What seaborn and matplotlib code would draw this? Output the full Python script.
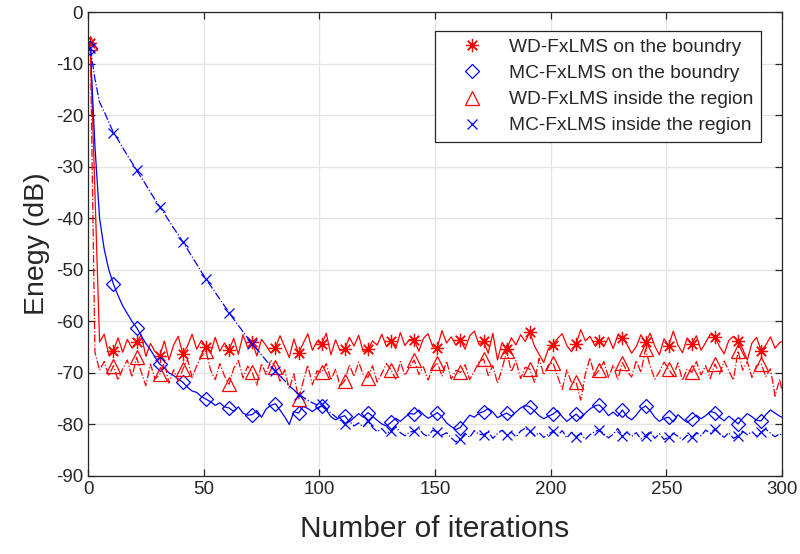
import matplotlib
matplotlib.use('Agg')
import matplotlib.pyplot as plt
import seaborn as sns
import numpy as np

# ---------- data ----------
# line samples at iterations 1, 3, 5, ..., 299 and 300
iters = list(range(1, 300, 2)) + [300]

wd_boundary = [
    -6, -35, -64, -62.5, -66.5, -65.7, -63.2, -66, -63.5, -65.2,
    -64.1, -62.6, -66.8, -64.3, -65.9, -66.7, -63.8, -67.5, -64.6, -62.9,
    -66.3, -64.8, -62.5, -65.4, -63.7, -64.9, -66.2, -63.1, -65.8, -64.2,
    -65.5, -63.3, -66.4, -62.6, -65.1, -64.1, -66.7, -63.5, -64.7, -66.1,
    -65.2, -62.8, -64.9, -67, -63.4, -66.2, -64.3, -62.4, -65.6, -63.9,
    -64.4, -62.3, -66.5, -63.6, -65.7, -65.4, -63.1, -64.8, -62.7, -65.9,
    -65.4, -63.8, -64.6, -62.5, -64.9, -63.8, -65.3, -62.2, -64.7, -63.5,
    -63.6, -65.8, -63.3, -62.4, -64.9, -65.1, -61.8, -64.2, -63, -64.6,
    -63.6, -65.4, -62.8, -61.9, -64.5, -63.9, -66.2, -62.3, -67.5, -64.1,
    -65.4, -63.2, -64.6, -62.6, -63.9, -62.1, -64.8, -66.4, -68, -65.3,
    -64.5, -63.3, -62.4, -64.7, -65.9, -64.4, -61.6, -63.8, -62.9, -64.6,
    -63.8, -64.9, -63.1, -65.3, -62.7, -63.2, -64.5, -66.2, -64.9, -62.6,
    -64.1, -62.3, -64.8, -66.5, -63.4, -64.7, -61.9, -64.6, -66.1, -63.2,
    -64.4, -62.8, -65.6, -64.1, -62.5, -63, -64.9, -66.3, -63.7, -62.9,
    -63.8, -65.4, -67.5, -64.2, -63.1, -65.7, -64.6, -63, -65.2, -64.1,
    -63.9]

mc_boundary = [
    -7, -26, -40, -46, -50, -52.8, -55, -57, -58.5, -60,
    -61.2, -62.8, -64.3, -65.5, -67, -68.3, -69, -70, -70.5, -71.2,
    -71.8, -72.8, -73.5, -73.8, -74.6, -75.1, -75.6, -76.3, -75.8, -76.6,
    -76.8, -77.5, -76.6, -77.8, -78.2, -78.1, -77.3, -78.6, -77, -76.3,
    -76, -77.2, -78.5, -80, -77.5, -77.8, -76.5, -76.9, -77.5, -76.8,
    -76.4, -77.2, -78.5, -79.1, -78.6, -78.3, -79.5, -78.7, -77.9, -78.6,
    -77.7, -78.4, -79.2, -79.9, -80.3, -79.6, -78.8, -79.4, -78.6, -77.9,
    -78, -77.2, -78.1, -78.8, -78.3, -77.7, -78.5, -79.7, -80.4, -81,
    -80.6, -79.3, -78.2, -78.6, -77.8, -77.5, -76.9, -77.6, -78.7, -78.2,
    -77.8, -78.4, -77.6, -76.8, -76.3, -76.6, -77.4, -78.3, -78.9, -78.4,
    -78, -77.3, -78.5, -79.4, -78.7, -78, -78.9, -77.8, -77, -76.4,
    -76.2, -77.1, -78.3, -77.6, -78.4, -77.2, -78.5, -79.1, -78.2, -77,
    -76.4, -77.3, -78.6, -79.4, -78.8, -78.6, -79.5, -78.1, -78.9, -79.6,
    -78.9, -78.2, -78.9, -78.3, -77.5, -77.7, -78.6, -79.3, -78.4, -79.1,
    -79.9, -78.8, -77.9, -78.5, -79.2, -79.3, -78.1, -77.2, -77.8, -78.4,
    -78.6]

wd_inside = [
    -6, -66, -69.5, -67.8, -70.6, -68.6, -71.4, -69.2, -67.5, -70.8,
    -67, -69.8, -72.5, -68.3, -71.2, -70.3, -67.9, -72, -69.4, -71.6,
    -69.3, -67.4, -70.9, -68.6, -66.8, -65.7, -69.5, -71.3, -68.2, -70.6,
    -72.2, -69.1, -67.6, -71, -68.7, -69.9, -72.4, -68.2, -70.3, -67.5,
    -68.9, -71.6, -69.4, -73.1, -70.2, -75.1, -71.7, -68.5, -72.3, -69.6,
    -69.9, -68.2, -71.4, -69.3, -72.6, -71.5, -68.4, -70.7, -67.9, -70.4,
    -70.9, -68.6, -71.8, -70.1, -68.2, -69.4, -71.2, -67.8, -70.5, -68.9,
    -67.5, -70.3, -68.8, -71.4, -69.1, -68, -70.6, -67.7, -71.2, -69.5,
    -69.9, -68.4, -71.3, -69.7, -67.9, -67.3, -70.5, -68.6, -72, -69.2,
    -65.7, -69.8, -67.6, -71.1, -68.9, -69.3, -71.8, -67.2, -70.4, -68.5,
    -68, -70.7, -73.2, -69.4, -71.9, -71.8, -75.3, -70.2, -67.1, -70.6,
    -69.4, -67.8, -70.9, -68.5, -71.3, -68, -69.7, -70.8, -67.6, -69.9,
    -65.4, -68.7, -71.2, -69.8, -67.9, -69.3, -70.6, -68.1, -71.5, -69.2,
    -69.9, -67.8, -70.4, -68.6, -71.1, -68.3, -70.2, -67.7, -69.6, -71.4,
    -65.7, -69.5, -67.8, -70.9, -68.6, -68.3, -70.7, -69.2, -74.5, -71.2,
    -73.5]

mc_inside = [
    -7, -13, -17.5, -19.3, -21.4, -23.4, -24.8, -26.3, -27.8, -29.2,
    -30.7, -32.1, -33.5, -35, -36.4, -37.8, -39.1, -40.5, -41.9, -43.2,
    -44.6, -46, -47.5, -48.9, -50.4, -51.8, -53.1, -54.4, -55.7, -57,
    -58.3, -59.6, -60.8, -62, -63.2, -64.4, -65.4, -66.5, -67.6, -68.6,
    -69.6, -70.6, -71.5, -72.5, -73.3, -74.2, -74.7, -75.3, -75.8, -76.2,
    -76, -77, -77.8, -78.5, -79.2, -79.9, -79.4, -80.3, -79.7, -80.5,
    -79.3, -80.6, -81.4, -80.8, -81.8, -81.2, -80.4, -81.6, -82.2, -81.5,
    -81.3, -80.7, -81.9, -82.3, -81.1, -81.5, -82.1, -81.6, -82.6, -83.4,
    -82.8, -81.7, -82.5, -81.2, -81.9, -82, -81.4, -82.7, -81.8, -81.1,
    -82, -81.5, -82.4, -81.3, -80.7, -81.3, -82.2, -81.6, -82.5, -81.9,
    -81.3, -82.1, -81.2, -82.6, -81.5, -82.4, -81.7, -82.9, -82, -81.4,
    -81.1, -81.8, -82.6, -81.9, -80.8, -82.2, -81.5, -82.3, -81.6, -82.8,
    -82.2, -81.4, -82.7, -81.8, -82.9, -82.5, -81.7, -82.3, -83, -82.1,
    -82.5, -81.6, -82.2, -81.1, -81.7, -80.9, -81.8, -82.5, -81.6, -82.7,
    -82.2, -81.3, -82, -81.4, -82.3, -81.5, -80.9, -81.7, -82.4, -81.8,
    -82.1]

labels = ['WD-FxLMS on the boundry', 'MC-FxLMS on the boundry',
          'WD-FxLMS inside the region', 'MC-FxLMS inside the region']

# ---------- style ----------
sns.set_style('ticks')
plt.rcParams['font.family'] = ['Liberation Sans', 'DejaVu Sans']
plt.rcParams['axes.unicode_minus'] = False
plt.rcParams['xtick.direction'] = 'in'
plt.rcParams['ytick.direction'] = 'in'

RED = '#ff0000'
BLUE = '#0000ff'
series = [
    (wd_boundary, RED, '-', (8, 2, 0), 9.5),
    (mc_boundary, BLUE, '-', 'D', 7.5),
    (wd_inside, RED, '-.', '^', 10.5),
    (mc_inside, BLUE, '-.', 'x', 7.5),
]

fig = plt.figure(figsize=(8, 5.54), dpi=100)
ax = fig.add_axes([0.11, 0.1408, 0.8675, 0.8375])

handles = []
for (vals, col, ls, mk, ms), lab in zip(series, labels):
    sns.lineplot(x=iters, y=vals, ax=ax, color=col, linestyle=ls,
                 linewidth=0.9, sort=False)
    # markers every 10 iterations (1, 11, ..., 291)
    h, = ax.plot(iters[0:150:5], vals[0:150:5], linestyle='none', marker=mk,
                 markersize=ms, markerfacecolor='none', markeredgecolor=col,
                 markeredgewidth=0.9, label=lab)
    handles.append(h)

ax.set_xlim(0, 300)
ax.set_ylim(-90, 0)
ax.set_xticks(range(0, 301, 50))
ax.set_yticks(range(-90, 1, 10))
ax.grid(True, color='#e3e3e3', linewidth=0.9)
ax.set_axisbelow(True)
for s in ax.spines.values():
    s.set_color('#262626')
    s.set_linewidth(0.9)
ax.tick_params(axis='both', labelsize=13.5, colors='#262626', length=5,
               width=0.9, top=True, right=True, labelcolor='#262626')
ax.set_xlabel('Number of iterations', fontsize=21.5, color='#262626', labelpad=12)
ax.set_ylabel('Enegy (dB)', fontsize=20.5, color='#262626', labelpad=4)

leg = ax.legend(handles=handles, loc='upper right', bbox_to_anchor=(0.9697, 0.959),
                borderaxespad=0, fontsize=13.8, frameon=True, fancybox=False,
                framealpha=1, edgecolor='#262626', handlelength=3.05,
                handletextpad=0.4, labelspacing=0.45, borderpad=0.4)
leg.get_frame().set_linewidth(0.9)

fig.savefig('out.png', dpi=100)
